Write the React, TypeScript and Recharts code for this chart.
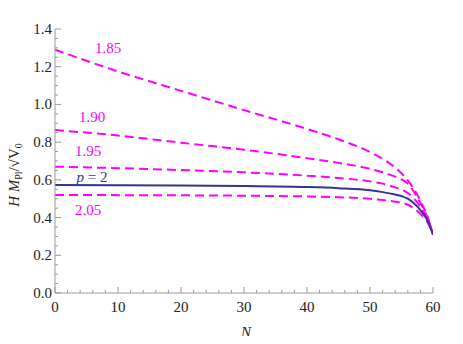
import React from 'react';
import { LineChart, Line, XAxis, YAxis } from 'recharts';

const N_VALUES = [0, 10, 20, 30, 40, 45, 50, 52, 54, 55, 56, 57, 58, 59, 59.5, 60];
const H_185 = [1.29, 1.175, 1.072, 0.97, 0.87, 0.815, 0.748, 0.712, 0.665, 0.635, 0.597, 0.55, 0.49, 0.415, 0.368, 0.31];
const H_190 = [0.864, 0.835, 0.797, 0.76, 0.715, 0.69, 0.658, 0.64, 0.617, 0.602, 0.58, 0.535, 0.478, 0.41, 0.365, 0.31];
const H_195 = [0.67, 0.662, 0.652, 0.64, 0.622, 0.61, 0.592, 0.58, 0.56, 0.548, 0.53, 0.5, 0.458, 0.4, 0.36, 0.31];
const H_200 = [0.573, 0.572, 0.57, 0.567, 0.562, 0.556, 0.545, 0.535, 0.522, 0.514, 0.5, 0.474, 0.44, 0.392, 0.356, 0.31];
const H_205 = [0.52, 0.519, 0.518, 0.516, 0.512, 0.508, 0.5, 0.493, 0.484, 0.479, 0.468, 0.448, 0.42, 0.382, 0.35, 0.31];

const X_MAJOR = [0, 10, 20, 30, 40, 50, 60];
const X_TICKS = [0, 2, 4, 6, 8, 10, 12, 14, 16, 18, 20, 22, 24, 26, 28, 30, 32, 34, 36, 38, 40, 42, 44, 46, 48, 50, 52, 54, 56, 58, 60];
const Y_MAJOR = [0, 0.2, 0.4, 0.6, 0.8, 1.0, 1.2, 1.4];
const Y_TICKS = [0, 0.05, 0.1, 0.15, 0.2, 0.25, 0.3, 0.35, 0.4, 0.45, 0.5, 0.55, 0.6, 0.65, 0.7, 0.75, 0.8, 0.85, 0.9, 0.95, 1.0, 1.05, 1.1, 1.15, 1.2, 1.25, 1.3, 1.35, 1.4];

const data = N_VALUES.map((n, i) => ({
  n,
  h185: H_185[i],
  h190: H_190[i],
  h195: H_195[i],
  h200: H_200[i],
  h205: H_205[i],
}));

const FONT = "'Liberation Serif', 'Times New Roman', Tinos, 'DejaVu Serif', 'Noto Serif', serif";
const TXT: React.CSSProperties = { fontFamily: FONT, fontSize: 15 };
const AXIS_COLOR = '#9a9a9a';
const MAGENTA = '#ff00ff';
const NAVY = '#35358f';

const isIn = (arr: number[], v: number) => arr.some((m) => Math.abs(m - v) < 1e-9);

const makeTick = (side: 'bottom' | 'top' | 'left' | 'right', major: number[]) => (props: any) => {
  const { x, y, payload } = props;
  const v = payload.value as number;
  const mj = isIn(major, v);
  const len = mj ? 6 : 3;
  let x2 = x, y2 = y;
  if (side === 'bottom') y2 = y - len;
  if (side === 'top') y2 = y + len;
  if (side === 'left') x2 = x + len;
  if (side === 'right') x2 = x - len;
  return (
    <g>
      <line x1={x} y1={y} x2={x2} y2={y2} stroke={AXIS_COLOR} strokeWidth={1} />
      {mj && side === 'bottom' && (
        <text x={x} y={y + 19} textAnchor="middle" style={TXT} fill="#222">
          {String(v)}
        </text>
      )}
      {mj && side === 'left' && (
        <text x={x - 3} y={y + 5} textAnchor="end" style={TXT} fill="#222">
          {v.toFixed(1)}
        </text>
      )}
    </g>
  );
};

export default function App() {
  return (
    <div style={{ position: 'relative', width: 463, height: 344, margin: -8, background: '#fff', fontFamily: FONT }}>
      <LineChart width={463} height={344} data={data} margin={{ top: 29, right: 30, bottom: 0, left: 0 }}>
        <XAxis
          dataKey="n"
          type="number"
          domain={[0, 60]}
          ticks={X_TICKS}
          interval={0}
          height={51}
          tickSize={0}
          tickMargin={0}
          tickLine={false}
          axisLine={{ stroke: AXIS_COLOR }}
          tick={makeTick('bottom', X_MAJOR)}
          allowDataOverflow
        />
        <XAxis
          xAxisId="top"
          orientation="top"
          dataKey="n"
          type="number"
          domain={[0, 60]}
          ticks={X_TICKS}
          interval={0}
          height={0}
          tickSize={0}
          tickMargin={0}
          tickLine={false}
          axisLine={{ stroke: AXIS_COLOR }}
          tick={makeTick('top', X_MAJOR)}
          allowDataOverflow
        />
        <YAxis
          type="number"
          domain={[0, 1.4]}
          ticks={Y_TICKS}
          interval={0}
          width={55}
          tickSize={0}
          tickMargin={0}
          tickLine={false}
          axisLine={{ stroke: AXIS_COLOR }}
          tick={makeTick('left', Y_MAJOR)}
          allowDataOverflow
        />
        <YAxis
          yAxisId="right"
          orientation="right"
          type="number"
          domain={[0, 1.4]}
          ticks={Y_TICKS}
          interval={0}
          width={0}
          tickSize={0}
          tickMargin={0}
          tickLine={false}
          axisLine={{ stroke: AXIS_COLOR }}
          tick={makeTick('right', Y_MAJOR)}
          allowDataOverflow
        />
        <Line dataKey="h185" type="monotone" stroke={MAGENTA} strokeWidth={2} strokeDasharray="9 5" dot={false} isAnimationActive={false} />
        <Line dataKey="h190" type="monotone" stroke={MAGENTA} strokeWidth={2} strokeDasharray="9 5" dot={false} isAnimationActive={false} />
        <Line dataKey="h195" type="monotone" stroke={MAGENTA} strokeWidth={2} strokeDasharray="9 5" dot={false} isAnimationActive={false} />
        <Line dataKey="h205" type="monotone" stroke={MAGENTA} strokeWidth={2} strokeDasharray="9 5" dot={false} isAnimationActive={false} />
        <Line dataKey="h200" type="monotone" stroke={NAVY} strokeWidth={2} dot={false} isAnimationActive={false} />
      </LineChart>
      <svg width={463} height={344} style={{ position: 'absolute', left: 0, top: 0, pointerEvents: 'none' }}>
        <g style={TXT}>
          <text x={108} y={53} textAnchor="middle" fill={MAGENTA}>1.85</text>
          <text x={92} y={122} textAnchor="middle" fill={MAGENTA}>1.90</text>
          <text x={88} y={156} textAnchor="middle" fill={MAGENTA}>1.95</text>
          <text x={92} y={182} textAnchor="middle" fill={NAVY}>
            <tspan fontStyle="italic">p</tspan> = 2
          </text>
          <text x={88} y={215} textAnchor="middle" fill={MAGENTA}>2.05</text>
          <text x={246} y={337} textAnchor="middle" fill="#222" fontStyle="italic">N</text>
          <text x={19} y={175} textAnchor="middle" fill="#222" transform="rotate(-90 19 175)">
            <tspan fontStyle="italic">H M</tspan>
            <tspan fontSize={10} dy={3}>Pl</tspan>
            <tspan dy={-3}>/√</tspan>
            <tspan textDecoration="overline">V</tspan>
            <tspan fontSize={10} dy={3}>0</tspan>
          </text>
        </g>
      </svg>
    </div>
  );
}
